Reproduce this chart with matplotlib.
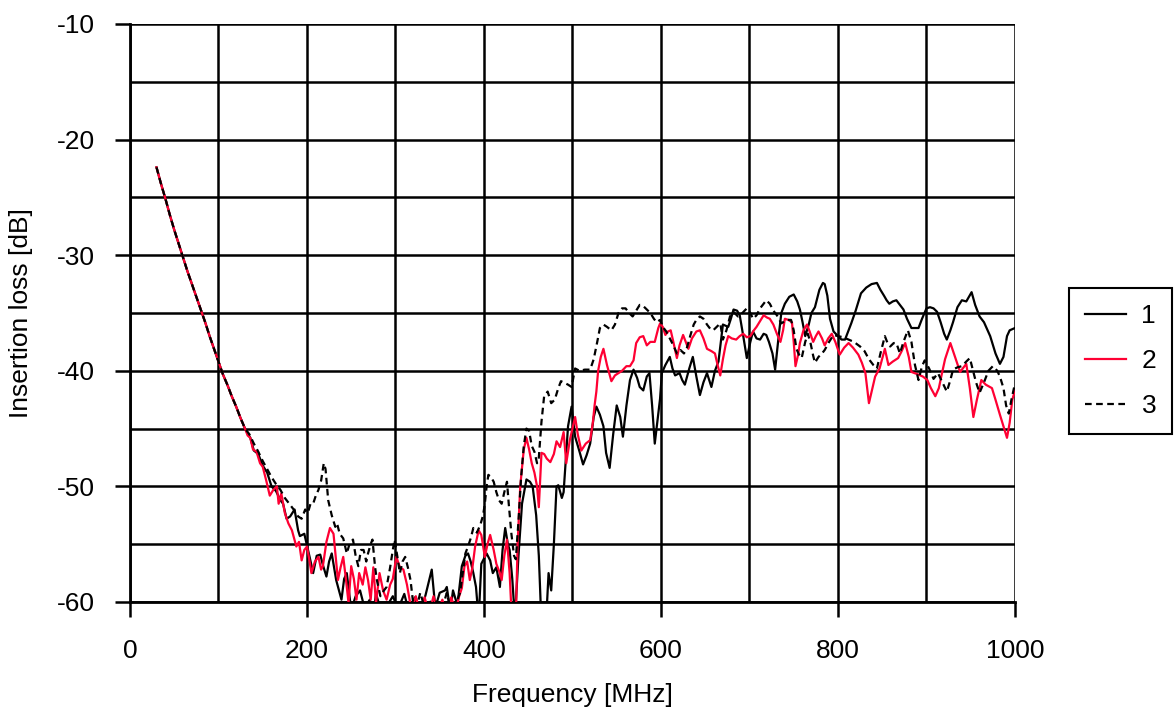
import matplotlib
matplotlib.use("Agg")
import matplotlib.pyplot as plt
from matplotlib.ticker import MultipleLocator

# Insertion loss vs frequency, three samples.
# Below 130 MHz the three traces overlap, so they share one segment.
freq_low = [30, 35, 40, 45, 50, 55, 60, 65, 70, 75, 80, 85, 90, 95, 100,
            105, 110, 115, 120, 125]
loss_low = [-22.4, -23.8, -25.1, -26.5, -27.8, -29.0, -30.2, -31.4, -32.5,
            -33.6, -34.7, -35.8, -37.0, -38.1, -39.2, -40.3, -41.2, -42.2,
            -43.1, -44.1]

freq_1 = [130, 136, 140, 145, 150, 155, 160, 165, 170, 173, 177, 181, 186, 190,
          192, 197, 203, 207, 211, 215, 218, 222, 225, 228, 233, 239, 242, 245,
          250, 255, 260, 265, 271, 275, 278, 284, 290, 297, 303, 310, 315, 322,
          328, 334, 341, 345, 350, 356, 358, 362, 365, 370, 375, 379, 382, 385,
          388, 391, 394, 397, 403, 407, 410, 414, 418, 421, 424, 427, 429, 432,
          435, 439, 443, 448, 452, 455, 459, 462, 465, 470, 473, 476, 479, 482,
          484, 488, 490, 493, 495, 499, 503, 508, 512, 516, 520, 524, 527, 531,
          535, 538, 542, 546, 550, 554, 557, 561, 565, 569, 573, 576, 580, 584,
          587, 590, 593, 597, 599, 601, 605, 610, 613, 616, 621, 624, 627, 632,
          636, 640, 644, 648, 652, 657, 661, 665, 670, 676, 679, 682, 686, 689,
          693, 697, 701, 704, 708, 712, 716, 719, 722, 726, 729, 733, 736, 740,
          745, 750, 754, 757, 760, 763, 767, 770, 774, 779, 783, 785, 788, 791,
          795, 800, 804, 808, 812, 815, 820, 826, 832, 838, 844, 848, 852, 855,
          858, 862, 866, 870, 874, 878, 883, 887, 891, 895, 900, 904, 908, 912,
          916, 920, 923, 927, 930, 935, 940, 945, 948, 951, 955, 960, 965, 972,
          978, 983, 987, 991, 994, 1000]
loss_1 = [-45.0, -45.8, -46.9, -47.2, -48.2, -48.8, -50.0, -50.4, -51.2, -51.5,
          -52.8, -52.6, -52.0, -53.8, -54.3, -54.1, -56.1, -57.5, -56.0, -55.9,
          -56.8, -57.8, -56.5, -55.8, -58.1, -59.8, -58.0, -57.5, -60.7, -59.5,
          -59.0, -60.5, -59.8, -61.0, -59.3, -60.8, -60.4, -59.5, -60.6, -59.3,
          -60.8, -59.6, -60.9, -59.4, -57.2, -60.5, -59.2, -59.0, -58.7, -60.8,
          -59.0, -60.3, -56.9, -56.0, -55.8, -56.5, -57.5, -58.7, -61.5, -56.7,
          -55.8, -56.4, -57.5, -57.0, -58.7, -55.5, -53.6, -55.0, -55.5, -58.0,
          -61.5, -56.0, -51.5, -49.4, -49.6, -50.0, -52.5, -56.0, -62.0, -62.0,
          -57.5, -59.0, -55.0, -50.0, -49.9, -51.0, -50.5, -47.0, -44.8, -43.1,
          -45.7, -47.0, -48.1, -47.3, -46.3, -44.0, -43.1, -43.8, -44.8, -47.1,
          -48.4, -45.5, -43.0, -44.0, -45.7, -43.0, -40.8, -39.9, -40.6, -41.4,
          -41.7, -40.5, -40.2, -43.0, -46.3, -43.7, -42.4, -40.2, -39.5, -38.8,
          -39.8, -40.4, -40.2, -40.8, -41.2, -39.8, -38.8, -40.5, -42.1, -41.0,
          -40.2, -41.4, -40.0, -39.2, -36.0, -36.2, -35.5, -34.7, -34.8, -35.2,
          -37.0, -38.9, -37.5, -36.6, -37.2, -37.3, -36.8, -36.9, -37.5, -38.5,
          -39.9, -37.0, -35.0, -34.2, -33.6, -33.4, -34.0, -34.7, -35.8, -37.0,
          -36.0, -35.0, -34.5, -33.0, -32.4, -32.5, -33.5, -35.5, -36.6, -37.0,
          -37.3, -37.3, -36.5, -35.9, -34.8, -33.3, -32.8, -32.5, -32.4, -33.0,
          -33.5, -33.9, -34.2, -34.0, -33.9, -34.3, -34.7, -35.5, -36.3, -36.3,
          -36.3, -35.5, -34.6, -34.5, -34.6, -34.9, -35.8, -36.8, -37.3, -36.5,
          -35.8, -34.5, -33.9, -34.0, -33.6, -33.2, -34.3, -35.3, -35.8, -37.0,
          -38.5, -39.4, -38.8, -37.0, -36.5, -36.3]

freq_2 = [130, 133, 136, 139, 143, 147, 150, 154, 158, 162, 166, 168, 171, 175,
          179, 183, 188, 191, 194, 197, 200, 203, 205, 209, 213, 216, 218, 222,
          226, 230, 233, 235, 238, 241, 244, 247, 250, 253, 256, 259, 263, 266,
          269, 272, 275, 278, 282, 286, 290, 294, 297, 301, 305, 309, 313, 318,
          323, 328, 333, 338, 343, 348, 353, 358, 363, 368, 372, 375, 378, 381,
          384, 387, 390, 394, 397, 401, 404, 407, 411, 414, 418, 420, 423, 426,
          429, 431, 433, 436, 438, 441, 445, 448, 451, 454, 457, 460, 462, 465,
          468, 471, 475, 479, 482, 486, 490, 493, 497, 503, 506, 510, 515, 520,
          523, 525, 527, 529, 532, 535, 539, 544, 548, 552, 556, 561, 565, 569,
          572, 576, 580, 584, 588, 593, 597, 599, 602, 605, 608, 611, 614, 618,
          621, 625, 628, 631, 635, 640, 644, 648, 652, 657, 661, 664, 667, 670,
          673, 676, 680, 685, 689, 693, 697, 701, 705, 708, 712, 716, 720, 723,
          727, 731, 735, 738, 740, 744, 748, 750, 752, 755, 757, 761, 765, 768,
          772, 775, 778, 782, 785, 789, 793, 797, 802, 807, 812, 817, 823, 827,
          831, 835, 838, 842, 847, 853, 857, 862, 868, 872, 876, 880, 883, 890,
          896, 901, 905, 910, 914, 917, 921, 927, 931, 938, 945, 949, 953, 957,
          962, 967, 974, 978, 983, 987, 991, 994, 997, 1000]
loss_2 = [-45.0, -45.6, -45.8, -46.8, -47.0, -48.0, -48.3, -49.5, -50.8, -50.3,
          -50.0, -51.5, -50.6, -52.3, -53.2, -53.8, -55.2, -54.8, -56.4, -55.5,
          -55.2, -56.5, -57.5, -56.5, -56.1, -57.2, -56.9, -54.8, -53.6, -54.1,
          -56.5, -58.1, -57.0, -56.1, -58.0, -60.1, -56.9, -58.0, -59.8, -57.5,
          -58.5, -57.0, -58.1, -59.8, -57.0, -60.1, -57.5, -59.0, -59.8, -58.5,
          -58.0, -56.1, -57.0, -57.2, -58.5, -60.7, -59.5, -61.0, -59.6, -61.0,
          -59.5, -60.8, -59.8, -61.2, -59.6, -60.8, -59.5, -58.8, -56.9, -56.5,
          -58.1, -57.0, -55.2, -53.8, -54.2, -56.1, -55.0, -54.2, -55.5, -56.7,
          -57.5, -58.1, -56.0, -54.6, -57.5, -60.7, -62.0, -61.5, -55.0, -50.0,
          -46.8, -45.8, -46.8, -48.0, -48.8, -50.0, -51.8, -47.1, -47.2, -47.6,
          -47.9, -47.2, -46.1, -46.6, -45.3, -48.0, -46.0, -44.0, -45.5, -46.9,
          -46.3, -46.0, -44.5, -43.0, -41.8, -40.0, -38.8, -38.1, -39.5, -40.9,
          -40.4, -40.2, -40.0, -39.6, -39.6, -39.1, -37.6, -37.1, -37.0, -37.8,
          -37.5, -37.5, -36.3, -35.9, -36.2, -36.9, -36.6, -36.5, -37.5, -38.9,
          -37.8, -36.9, -37.5, -38.1, -37.2, -36.6, -36.5, -37.2, -38.1, -38.3,
          -38.5, -39.5, -40.4, -39.0, -37.8, -37.0, -37.2, -37.3, -37.0, -36.8,
          -37.1, -37.0, -36.5, -36.2, -35.7, -35.2, -35.4, -35.5, -36.0, -36.8,
          -37.5, -36.5, -35.5, -35.6, -35.8, -37.5, -39.6, -38.6, -37.6, -36.5,
          -36.0, -36.6, -37.5, -37.0, -36.6, -37.2, -37.8, -37.2, -36.8, -37.5,
          -38.6, -38.0, -37.6, -38.0, -38.6, -39.3, -40.2, -42.8, -41.8, -40.5,
          -39.8, -38.1, -39.5, -39.2, -38.9, -38.3, -37.6, -38.8, -40.1, -40.3,
          -40.5, -40.8, -41.5, -42.2, -41.5, -40.4, -39.0, -37.6, -38.5, -40.1,
          -39.4, -41.5, -44.0, -42.5, -40.8, -41.2, -41.5, -42.5, -43.8, -44.8,
          -45.8, -44.5, -42.5, -41.7]

freq_3 = [130, 135, 140, 145, 150, 155, 160, 165, 170, 175, 180, 185, 190, 194,
          198, 201, 204, 207, 210, 213, 216, 219, 221, 224, 228, 232, 234, 237,
          241, 245, 248, 252, 255, 258, 261, 264, 267, 269, 272, 274, 277, 279,
          283, 287, 290, 294, 297, 299, 302, 305, 308, 311, 314, 317, 320, 324,
          328, 333, 338, 343, 347, 352, 358, 362, 365, 369, 373, 376, 379, 382,
          385, 388, 392, 396, 399, 401, 403, 405, 408, 411, 414, 417, 420, 423,
          426, 428, 431, 434, 436, 439, 442, 445, 448, 451, 454, 457, 460, 462,
          465, 468, 472, 476, 480, 484, 487, 490, 495, 499, 503, 508, 514, 520,
          524, 528, 531, 535, 539, 544, 548, 552, 556, 560, 564, 568, 572, 576,
          580, 584, 588, 592, 595, 599, 602, 606, 610, 614, 618, 622, 626, 629,
          633, 637, 640, 644, 648, 652, 656, 659, 663, 667, 670, 674, 678, 682,
          687, 692, 697, 701, 704, 708, 712, 716, 719, 723, 727, 731, 736, 742,
          747, 750, 753, 756, 759, 763, 766, 769, 772, 774, 778, 782, 785, 790,
          795, 800, 806, 812, 818, 825, 830, 835, 840, 844, 848, 853, 856, 859,
          863, 866, 870, 874, 879, 883, 887, 891, 895, 898, 903, 908, 913, 918,
          923, 927, 930, 935, 940, 945, 949, 952, 956, 960, 965, 970, 975, 980,
          983, 987, 990, 993, 996, 1000]
loss_3 = [-45.0, -45.5, -46.3, -47.0, -47.8, -48.5, -49.2, -49.8, -50.3, -51.0,
          -51.5, -52.0, -52.6, -52.8, -52.0, -52.3, -51.5, -51.5, -50.8, -50.3,
          -49.5, -48.0, -48.5, -51.2, -52.5, -53.5, -53.2, -54.1, -54.5, -55.8,
          -55.0, -54.6, -56.0, -56.9, -55.5, -55.5, -56.5, -55.8, -55.0, -54.6,
          -57.0, -58.1, -59.5, -59.0, -58.7, -57.0, -55.5, -54.6, -56.0, -57.5,
          -56.5, -56.1, -57.0, -58.1, -60.1, -60.5, -59.2, -60.5, -59.8, -60.6,
          -59.8, -60.8, -59.2, -60.5, -60.4, -60.0, -59.2, -57.5, -55.8, -55.2,
          -54.5, -53.6, -54.0, -53.3, -52.5, -51.5, -50.0, -49.0, -49.2, -49.6,
          -50.5, -51.2, -51.5, -50.5, -49.6, -51.5, -54.1, -56.0, -56.3, -53.0,
          -49.2, -46.5, -45.0, -45.2, -46.5, -47.0, -48.0, -47.5, -44.4, -42.2,
          -41.8, -42.8, -42.5, -41.5, -40.9, -41.0, -41.2, -41.4, -39.8, -40.0,
          -39.9, -39.9, -39.0, -37.5, -36.3, -36.0, -36.2, -36.5, -36.0, -35.0,
          -34.6, -34.6, -35.0, -35.3, -34.8, -34.3, -34.4, -34.7, -35.0, -35.5,
          -35.8, -35.6, -36.2, -36.6, -37.2, -37.8, -38.5, -38.2, -38.5, -38.1,
          -37.0, -36.0, -35.6, -35.3, -35.5, -36.0, -36.4, -36.5, -36.2, -35.9,
          -37.3, -36.5, -35.3, -34.9, -35.3, -35.0, -34.6, -35.0, -35.5, -35.2,
          -34.6, -34.2, -33.9, -34.2, -34.8, -35.2, -35.9, -35.6, -35.6, -36.5,
          -38.1, -38.6, -38.9, -37.5, -36.8, -37.6, -38.7, -39.3, -38.8, -38.5,
          -38.2, -37.5, -36.9, -37.0, -37.1, -37.3, -37.5, -37.9, -38.3, -39.0,
          -39.5, -39.8, -38.5, -37.0, -37.6, -37.9, -37.6, -37.6, -38.5, -37.5,
          -36.5, -37.5, -39.5, -40.8, -39.6, -39.1, -39.8, -40.7, -40.2, -41.0,
          -41.8, -40.8, -39.9, -39.7, -39.6, -39.2, -38.9, -39.8, -41.0, -41.9,
          -41.0, -40.0, -39.6, -40.0, -40.5, -41.5, -43.0, -43.7, -42.5, -41.1]

labels = ["1", "2", "3"]

plt.rcParams["font.family"] = ["Liberation Sans", "DejaVu Sans"]
plt.rcParams["font.size"] = 19
plt.rcParams["axes.unicode_minus"] = False

fig = plt.figure(figsize=(11.75, 7.2), dpi=100)
ax = fig.add_axes([0.1106, 0.1639, 0.8638 - 0.1106, 0.9667 - 0.1639])

ax.plot(freq_low + freq_1, loss_low + loss_1, color="black", lw=1.6,
        label=labels[0], zorder=3)
ax.plot(freq_low + freq_2, loss_low + loss_2, color="#ff0033", lw=1.6,
        label=labels[1], zorder=3)
ax.plot(freq_low + freq_3, loss_low + loss_3, color="black", lw=1.6,
        ls=(0, (3, 2)), label=labels[2], zorder=3)

ax.set_xlim(0, 1000)
ax.set_ylim(-60, -10)
ax.xaxis.set_major_locator(MultipleLocator(200))
ax.xaxis.set_minor_locator(MultipleLocator(100))
ax.yaxis.set_major_locator(MultipleLocator(10))
ax.yaxis.set_minor_locator(MultipleLocator(5))

ax.grid(True, which="both", color="black", lw=1.8, zorder=1)
ax.tick_params(which="major", direction="out", length=11, width=1.8,
               labelsize=19)
ax.tick_params(axis="x", which="major", pad=16)
ax.tick_params(axis="y", which="major", pad=14)
ax.tick_params(which="minor", length=0)
for side in ax.spines.values():
    side.set_linewidth(2)
ax.spines["top"].set_visible(False)
ax.spines["right"].set_visible(False)

ax.set_xlabel("Frequency [MHz]", fontsize=19, labelpad=14)
ax.set_ylabel("Insertion loss [dB]", fontsize=19, labelpad=17)

leg = fig.legend(loc="center", bbox_to_anchor=(1120.5 / 1175, 0.4986),
                 fontsize=19, handlelength=1.55, handletextpad=0.6,
                 labelspacing=0.8, borderpad=0.6, borderaxespad=0,
                 fancybox=False, framealpha=1)
leg.get_frame().set_edgecolor("black")
leg.get_frame().set_linewidth(1.5)

fig.savefig("out.png", dpi=100)
